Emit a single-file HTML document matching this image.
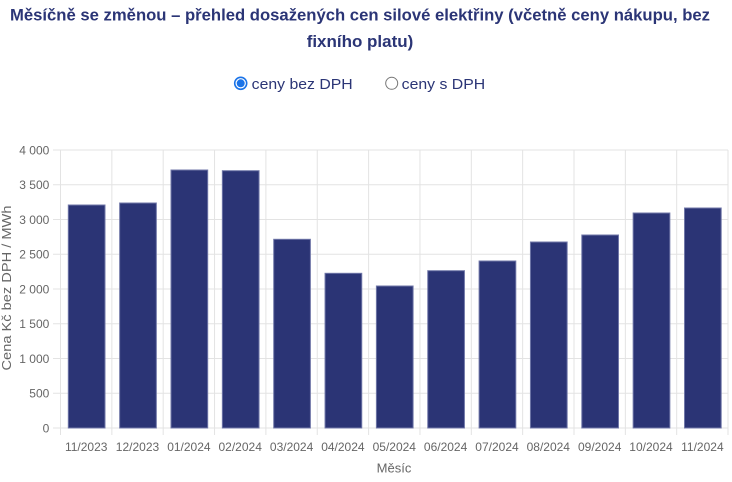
<!DOCTYPE html>
<html><head><meta charset="utf-8"><style>
html,body{margin:0;padding:0;background:#fff;}
svg{display:block;}
text{font-family:"Liberation Sans",sans-serif;}
</style></head><body>
<svg width="732" height="482" viewBox="0 0 732 482" xmlns="http://www.w3.org/2000/svg">
<!-- Title -->
<text x="10" y="20.5" font-size="17" font-weight="bold" fill="#2b3576" textLength="700" lengthAdjust="spacingAndGlyphs">Měsíčně se změnou – přehled dosažených cen silové elektřiny (včetně ceny nákupu, bez</text>
<text x="306.7" y="47" font-size="17" font-weight="bold" fill="#2b3576" textLength="106.6" lengthAdjust="spacingAndGlyphs">fixního platu)</text>
<!-- Legend radios -->
<circle cx="240.7" cy="83.3" r="6" fill="#fff" stroke="#1a73e8" stroke-width="1.6"/>
<circle cx="240.7" cy="83.3" r="4" fill="#1a73e8"/>
<text x="251.7" y="89" font-size="15" fill="#2b3576" textLength="101" lengthAdjust="spacingAndGlyphs">ceny bez DPH</text>
<circle cx="391.7" cy="83.3" r="6" fill="#fff" stroke="#767676" stroke-width="1"/>
<text x="401.7" y="89" font-size="15" fill="#2b3576" textLength="83.5" lengthAdjust="spacingAndGlyphs">ceny s DPH</text>
<!-- Grid -->
<g stroke="#e3e3e3" stroke-width="1">
<line x1="53" y1="150" x2="728" y2="150"/>
<line x1="53" y1="184.75" x2="728" y2="184.75"/>
<line x1="53" y1="219.5" x2="728" y2="219.5"/>
<line x1="53" y1="254.25" x2="728" y2="254.25"/>
<line x1="53" y1="289" x2="728" y2="289"/>
<line x1="53" y1="323.75" x2="728" y2="323.75"/>
<line x1="53" y1="358.5" x2="728" y2="358.5"/>
<line x1="53" y1="393.25" x2="728" y2="393.25"/>
<line x1="53" y1="428" x2="728" y2="428"/>
<line x1="60.5" y1="150" x2="60.5" y2="435"/>
<line x1="111.85" y1="150" x2="111.85" y2="435"/>
<line x1="163.2" y1="150" x2="163.2" y2="435"/>
<line x1="214.55" y1="150" x2="214.55" y2="435"/>
<line x1="265.9" y1="150" x2="265.9" y2="435"/>
<line x1="317.25" y1="150" x2="317.25" y2="435"/>
<line x1="368.6" y1="150" x2="368.6" y2="435"/>
<line x1="419.95" y1="150" x2="419.95" y2="435"/>
<line x1="471.3" y1="150" x2="471.3" y2="435"/>
<line x1="522.65" y1="150" x2="522.65" y2="435"/>
<line x1="574" y1="150" x2="574" y2="435"/>
<line x1="625.35" y1="150" x2="625.35" y2="435"/>
<line x1="676.7" y1="150" x2="676.7" y2="435"/>
<line x1="728" y1="150" x2="728" y2="435"/>
</g>
<!-- Y labels -->
<g font-size="12" fill="#666" text-anchor="end">
<text x="49.3" y="154.3">4 000</text>
<text x="49.3" y="189">3 500</text>
<text x="49.3" y="223.8">3 000</text>
<text x="49.3" y="258.5">2 500</text>
<text x="49.3" y="293.3">2 000</text>
<text x="49.3" y="328">1 500</text>
<text x="49.3" y="362.8">1 000</text>
<text x="49.3" y="397.5">500</text>
<text x="49.3" y="432.3">0</text>
</g>
<text transform="translate(11,288) rotate(-90)" font-size="13" fill="#666" text-anchor="middle" textLength="165" lengthAdjust="spacingAndGlyphs">Cena Kč bez DPH / MWh</text>
<!-- Bars -->
<g fill="#2b3475" stroke="#7077a8" stroke-width="1">
<rect x="68.3" y="205" width="36.7" height="223"/>
<rect x="119.65" y="203" width="36.7" height="225"/>
<rect x="171" y="170" width="36.7" height="258"/>
<rect x="222.35" y="170.7" width="36.7" height="257.3"/>
<rect x="273.7" y="239.3" width="36.7" height="188.7"/>
<rect x="325.05" y="273.3" width="36.7" height="154.7"/>
<rect x="376.4" y="286" width="36.7" height="142"/>
<rect x="427.75" y="270.7" width="36.7" height="157.3"/>
<rect x="479.1" y="261" width="36.7" height="167"/>
<rect x="530.45" y="242" width="36.7" height="186"/>
<rect x="581.8" y="235" width="36.7" height="193"/>
<rect x="633.15" y="213" width="36.7" height="215"/>
<rect x="684.5" y="208" width="36.7" height="220"/>
</g>
<!-- X labels -->
<g font-size="12" fill="#666" text-anchor="middle">
<text x="86.2" y="451">11/2023</text>
<text x="137.5" y="451">12/2023</text>
<text x="188.9" y="451">01/2024</text>
<text x="240.2" y="451">02/2024</text>
<text x="291.6" y="451">03/2024</text>
<text x="342.9" y="451">04/2024</text>
<text x="394.3" y="451">05/2024</text>
<text x="445.6" y="451">06/2024</text>
<text x="497" y="451">07/2024</text>
<text x="548.3" y="451">08/2024</text>
<text x="599.7" y="451">09/2024</text>
<text x="651" y="451">10/2024</text>
<text x="702.4" y="451">11/2024</text>
</g>
<text x="394" y="472.5" font-size="13" fill="#666" text-anchor="middle">Měsíc</text>
</svg>
</body></html>
